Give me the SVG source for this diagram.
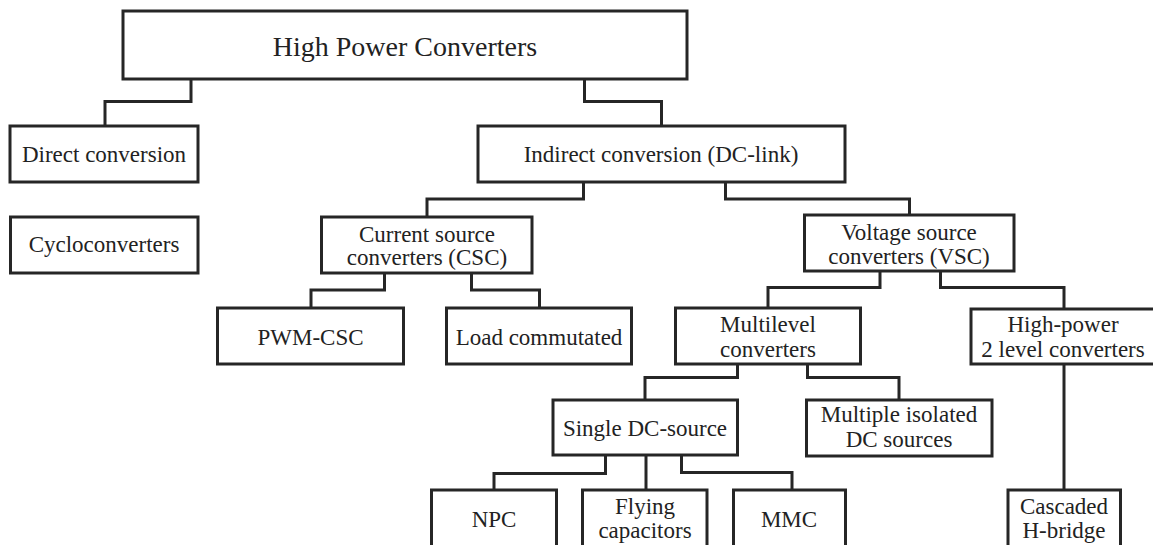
<svg xmlns="http://www.w3.org/2000/svg" width="1153" height="545" viewBox="0 0 1153 545">
<style>
.box{fill:#fff;stroke:#262626;stroke-width:3}
.lbl{font-family:'Liberation Serif','DejaVu Serif',serif;font-size:23px;fill:#222;text-anchor:middle}
.ttl{font-family:'Liberation Serif','DejaVu Serif',serif;font-size:28px;fill:#222;text-anchor:middle}
.con{fill:none;stroke:#262626;stroke-width:3;stroke-linejoin:miter}
</style>
<rect width="1153" height="545" fill="#fff"/>
<g id="connectors">
<polyline class="con" points="191,79 191,101.5 105,101.5 105,126"/>
<polyline class="con" points="584.5,79 584.5,101.5 661.5,101.5 661.5,126"/>
<polyline class="con" points="583.5,182 583.5,199 427,199 427,217"/>
<polyline class="con" points="725.5,182 725.5,199 909.5,199 909.5,215"/>
<polyline class="con" points="384.5,273 384.5,290 311,290 311,308"/>
<polyline class="con" points="471.5,273 471.5,290 539.5,290 539.5,308"/>
<polyline class="con" points="880,271 880,287.5 768,287.5 768,308"/>
<polyline class="con" points="940.5,271 940.5,287.5 1064,287.5 1064,309"/>
<polyline class="con" points="737.5,364 737.5,377.5 645,377.5 645,400"/>
<polyline class="con" points="807.5,364 807.5,377.5 899,377.5 899,400"/>
<polyline class="con" points="1064,364 1064,490"/>
<polyline class="con" points="605.5,455 605.5,473.5 494,473.5 494,490"/>
<polyline class="con" points="646,455 646,490"/>
<polyline class="con" points="681.5,455 681.5,472.5 792,472.5 792,490"/>
</g>
<g id="root"><rect class="box" x="123" y="11" width="564" height="68"/><text class="ttl" x="405" y="56" font-family="Liberation Serif, DejaVu Serif, serif">High Power Converters</text></g>
<g id="direct"><rect class="box" x="10" y="126" width="188" height="56"/><text class="lbl" x="104" y="162">Direct conversion</text></g>
<g id="cyclo"><rect class="box" x="10.5" y="217" width="187.5" height="56"/><text class="lbl" x="104" y="252">Cycloconverters</text></g>
<g id="indirect"><rect class="box" x="478" y="126" width="367" height="56"/><text class="lbl" x="661" y="162">Indirect conversion (DC-link)</text></g>
<g id="csc"><rect class="box" x="321.5" y="217" width="210.5" height="56"/><text class="lbl" x="427" y="241.5">Current source</text><text class="lbl" x="427" y="265">converters (CSC)</text></g>
<g id="vsc"><rect class="box" x="804.5" y="215" width="209.5" height="56"/><text class="lbl" x="909" y="239.5">Voltage source</text><text class="lbl" x="909" y="263.5">converters (VSC)</text></g>
<g id="pwmcsc"><rect class="box" x="217.5" y="308" width="186" height="56"/><text class="lbl" x="310.5" y="345">PWM-CSC</text></g>
<g id="load"><rect class="box" x="446.5" y="308" width="185" height="56"/><text class="lbl" x="539" y="345">Load commutated</text></g>
<g id="multilevel"><rect class="box" x="675.5" y="308" width="185" height="56"/><text class="lbl" x="768" y="331.5">Multilevel</text><text class="lbl" x="768" y="356.5">converters</text></g>
<g id="highpower"><rect class="box" x="971" y="309" width="200" height="55"/><text class="lbl" x="1063" y="331.5">High-power</text><text class="lbl" x="1063" y="356.5">2 level converters</text></g>
<g id="single"><rect class="box" x="553" y="400" width="184.5" height="55"/><text class="lbl" x="645" y="435.5">Single DC-source</text></g>
<g id="multiple"><rect class="box" x="806.5" y="400" width="185.5" height="56"/><text class="lbl" x="899" y="422">Multiple isolated</text><text class="lbl" x="899" y="447">DC sources</text></g>
<g id="npc"><rect class="box" x="431.5" y="490" width="125" height="70"/><text class="lbl" x="494" y="527">NPC</text></g>
<g id="flying"><rect class="box" x="582.5" y="490" width="124.5" height="70"/><text class="lbl" x="645" y="514">Flying</text><text class="lbl" x="645" y="537.5">capacitors</text></g>
<g id="mmc"><rect class="box" x="733.5" y="490" width="112" height="70"/><text class="lbl" x="789" y="527">MMC</text></g>
<g id="cascaded"><rect class="box" x="1008" y="490" width="112.5" height="70"/><text class="lbl" x="1064" y="514">Cascaded</text><text class="lbl" x="1064" y="538">H-bridge</text></g>
</svg>
